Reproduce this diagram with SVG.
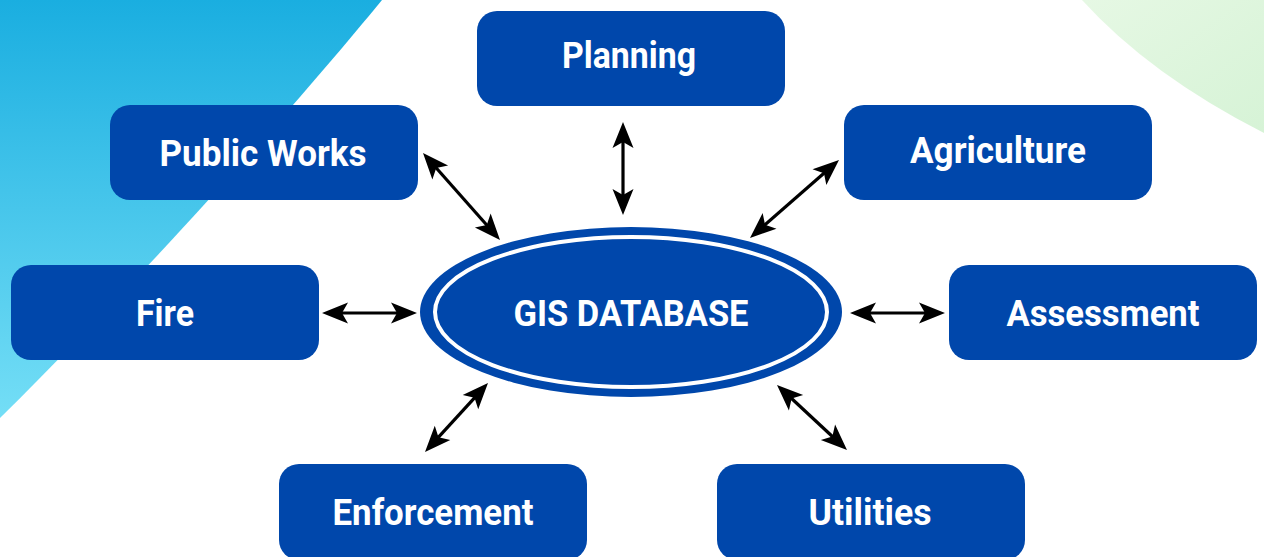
<svg xmlns="http://www.w3.org/2000/svg" width="1264" height="557" viewBox="0 0 1264 557">
  <defs>
    <linearGradient id="cyanWash" x1="0" y1="0" x2="0" y2="1">
      <stop offset="0" stop-color="#1aaee0"/>
      <stop offset="1" stop-color="#74def6"/>
    </linearGradient>
    <linearGradient id="greenWash" x1="0" y1="0" x2="1" y2="1">
      <stop offset="0" stop-color="#e6f8e4"/>
      <stop offset="1" stop-color="#d6f3d6"/>
    </linearGradient>
    <!-- arrow tip, pointing along +x with its point at the origin -->
    <path id="tip" d="M0,0 L-26,-10.5 L-20,0 L-26,10.5 Z" fill="#000"/>
  </defs>
  <style>
    .box { fill: #0047ab; }
    .label { fill: #fff; font-family: Roboto, "Liberation Sans", sans-serif; font-weight: bold; font-size: 37px; text-anchor: middle; }
    .link { stroke: #000; stroke-width: 3.2; fill: none; }
  </style>

  <rect width="1264" height="557" fill="#fff"/>
  <!-- background washes -->
  <path d="M0,0 L382,0 C300,100 150,270 0,418 Z" fill="url(#cyanWash)"/>
  <path d="M1082,0 L1264,0 L1264,133 Q1150,75 1082,0 Z" fill="url(#greenWash)"/>

  <!-- connectors: shafts plus a tip at each end -->
  <g id="connectors">
    <line class="link" x1="623" y1="136" x2="623" y2="201"/>
    <use href="#tip" transform="translate(623,122) rotate(-90)"/>
    <use href="#tip" transform="translate(623,215) rotate(90)"/>

    <line class="link" x1="432.3" y1="163.5" x2="490.7" y2="229.5"/>
    <use href="#tip" transform="translate(423,153) rotate(228.5)"/>
    <use href="#tip" transform="translate(500,240) rotate(48.5)"/>

    <line class="link" x1="828.5" y1="169.2" x2="760.5" y2="228.8"/>
    <use href="#tip" transform="translate(839,160) rotate(-41.2)"/>
    <use href="#tip" transform="translate(750,238) rotate(138.8)"/>

    <line class="link" x1="336" y1="313" x2="403" y2="313"/>
    <use href="#tip" transform="translate(322,313) rotate(180)"/>
    <use href="#tip" transform="translate(417,313)"/>

    <line class="link" x1="864" y1="313" x2="931" y2="313"/>
    <use href="#tip" transform="translate(850,313) rotate(180)"/>
    <use href="#tip" transform="translate(945,313)"/>

    <line class="link" x1="478.6" y1="393.3" x2="434.4" y2="441.7"/>
    <use href="#tip" transform="translate(488,383) rotate(-47.6)"/>
    <use href="#tip" transform="translate(425,452) rotate(132.4)"/>

    <line class="link" x1="787.3" y1="394.5" x2="836.7" y2="440.5"/>
    <use href="#tip" transform="translate(777,385) rotate(222.9)"/>
    <use href="#tip" transform="translate(847,450) rotate(42.9)"/>
  </g>

  <g id="gis-database">
    <ellipse cx="631" cy="312" rx="211" ry="85" class="box"/>
    <ellipse cx="631" cy="312" rx="196" ry="75" fill="none" stroke="#fff" stroke-width="4"/>
    <text class="label" x="631" y="326" textLength="235" lengthAdjust="spacingAndGlyphs">GIS DATABASE</text>
  </g>

  <g id="planning">
    <rect class="box" x="477" y="11" width="308" height="95" rx="20"/>
    <text class="label" x="629" y="68" textLength="134" lengthAdjust="spacingAndGlyphs">Planning</text>
  </g>
  <g id="public-works">
    <rect class="box" x="110" y="105" width="308" height="95" rx="20"/>
    <text class="label" x="263" y="166" textLength="207" lengthAdjust="spacingAndGlyphs">Public Works</text>
  </g>
  <g id="agriculture">
    <rect class="box" x="844" y="105" width="308" height="95" rx="20"/>
    <text class="label" x="998" y="163" textLength="176" lengthAdjust="spacingAndGlyphs">Agriculture</text>
  </g>
  <g id="fire">
    <rect class="box" x="11" y="265" width="308" height="95" rx="20"/>
    <text class="label" x="165" y="326" textLength="58" lengthAdjust="spacingAndGlyphs">Fire</text>
  </g>
  <g id="assessment">
    <rect class="box" x="949" y="265" width="308" height="95" rx="20"/>
    <text class="label" x="1103" y="326" textLength="193" lengthAdjust="spacingAndGlyphs">Assessment</text>
  </g>
  <g id="enforcement">
    <rect class="box" x="279" y="464" width="308" height="96" rx="20"/>
    <text class="label" x="433" y="525" textLength="201" lengthAdjust="spacingAndGlyphs">Enforcement</text>
  </g>
  <g id="utilities">
    <rect class="box" x="717" y="464" width="308" height="96" rx="20"/>
    <text class="label" x="870" y="525" textLength="123" lengthAdjust="spacingAndGlyphs">Utilities</text>
  </g>
</svg>
